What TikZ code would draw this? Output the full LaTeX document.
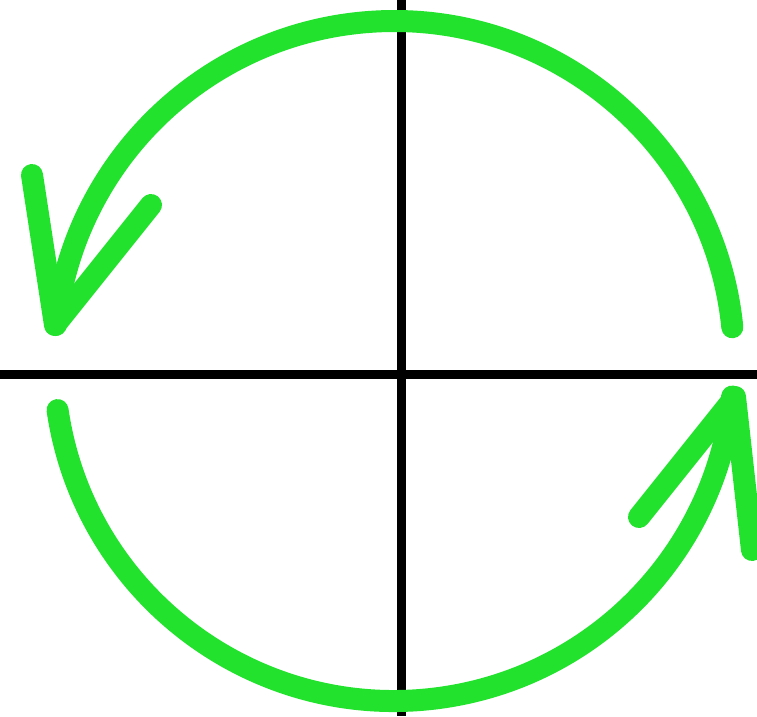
\documentclass[tikz,border=0pt]{standalone}
\definecolor{arcgreen}{RGB}{34,226,46}
\begin{document}
\begin{tikzpicture}[x=1pt,y=-1pt,
  axis/.style={black,line width=9pt},
  greenline/.style={arcgreen,line width=22pt,line cap=round,line join=round}]
\useasboundingbox (0,0) rectangle (757,716);
\coordinate (O) at (394,361);
% axes
\coordinate (L) at (0,374);
\coordinate (R) at (757,374);
\coordinate (T) at (401,0);
\coordinate (B) at (401,716);
\draw[axis] (L) -- (R);
\draw[axis] (T) -- (B);
% upper arc with arrow at left
\coordinate (tipL) at (55,325);
\coordinate (armL1) at (32,175);
\coordinate (armL2) at (151,205);
\draw[greenline] (O) ++(-5.7:340) arc[start angle=-5.7,end angle=-173.9,radius=340];
\draw[greenline] (armL1) -- (tipL) -- (armL2);
% lower arc with arrow at right
\coordinate (tipR) at (735,397);
\coordinate (armR1) at (639,517);
\coordinate (armR2) at (752,550);
\draw[greenline] (O) ++(171.7:340) arc[start angle=171.7,end angle=6,radius=340];
\draw[greenline] (armR1) -- (tipR) -- (armR2);
\end{tikzpicture}
\end{document}
